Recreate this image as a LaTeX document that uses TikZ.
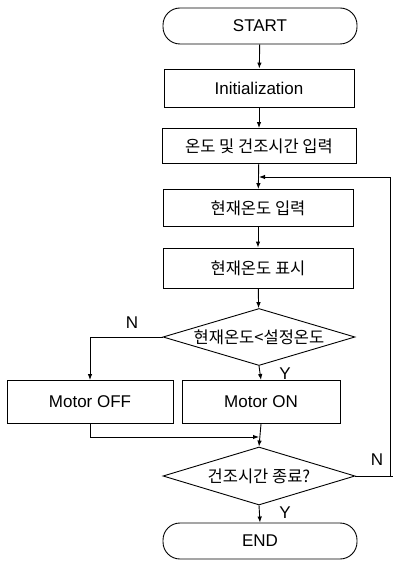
\documentclass[tikz,border=0pt]{standalone}
\usepackage{fontspec}
\setmainfont{Liberation Sans}
\newfontfamily\kr{Noto Sans CJK KR}
\usetikzlibrary{arrows.meta,shapes.geometric}

\begin{document}
\begin{tikzpicture}[x=1pt,y=-1pt,>={Latex[length=6pt,width=4.5pt]},line width=0.9pt,
 box/.style={draw,minimum height=38pt,inner sep=0pt,font=\fontsize{17}{20}\selectfont},
 term/.style={box,rounded corners=17pt,minimum width=194pt,minimum height=36pt},
 dec/.style={draw,diamond,aspect=3.3,minimum width=192pt,minimum height=57pt,inner sep=0pt},
 kor/.style={font=\kr\fontsize{16.5}{20}\selectfont},
 lbl/.style={font=\fontsize{17}{20}\selectfont}]
 \useasboundingbox (0,0) rectangle (393,561);
 % main column
 \node[term] (start) at (260,26) {START};
 \node[box,minimum width=190pt] (init) at (259,88) {Initialization};
 \node[box,kor,minimum width=194pt,minimum height=35pt] (input) at (259,146) {온도 및 건조시간 입력};
 \node[box,kor,minimum width=190pt,minimum height=37pt] (cur) at (258,208) {현재온도 입력};
 \node[box,kor,minimum width=190pt,minimum height=40pt] (disp) at (258,268) {현재온도 표시};
 \node[dec,label={[kor]center:현재온도<설정온도}] (cmp) at (259,337) {};
 \node[box,minimum width=166pt,minimum height=43pt] (off) at (90,402) {Motor OFF};
 \node[box,minimum width=158pt,minimum height=43pt] (on) at (261,402) {Motor ON};
 \node[dec,minimum height=58pt,label={[kor]center:건조시간 종료?}] (done) at (259,476) {};
 \node[term] (fin) at (260,541) {END};
 \coordinate (loop) at (259,177);
 \coordinate (merge) at (259,437);
 \coordinate (edge) at (390,476);
 % connectors
 \draw[->] (start) -- (init);
 \draw[->] (init) -- (input);
 \draw[->] (input) -- (cur);
 \draw[->] (cur) -- (disp);
 \draw[->] (disp) -- (cmp);
 \draw[->] (cmp.west) -| (off.north);
 \draw[->] (cmp.south) -- (on.north);
 \draw[->] (off.south) |- (merge);
 \draw[->] (on.south) -- (done.north);
 \draw (done.east) -- (393,476);
 \draw[->] (edge) |- (loop);
 \draw[->] (done.south) -- (fin.north);
 % branch labels
 \node[lbl] at (132,323) {N};
 \node[lbl] at (285,374) {Y};
 \node[lbl] at (377,460) {N};
 \node[lbl] at (285,513) {Y};
\end{tikzpicture}
\end{document}
